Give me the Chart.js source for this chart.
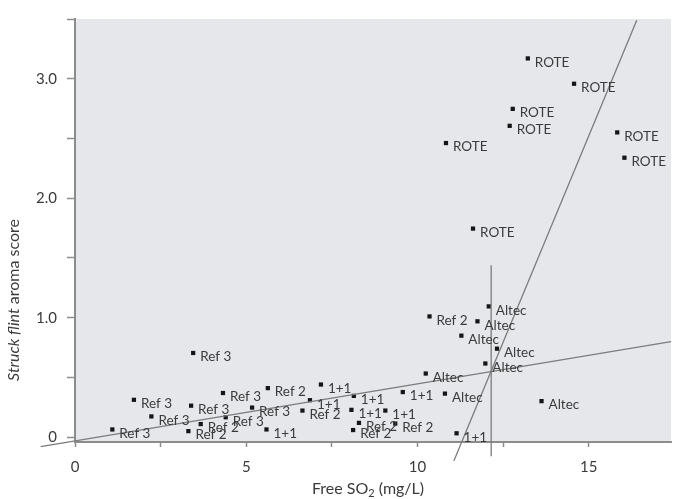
<!DOCTYPE html>
<html>
<head>
<meta charset="utf-8">
<script src="https://cdn.jsdelivr.net/npm/chart.js@4/dist/chart.umd.min.js"></script>
<style>
  html, body { margin: 0; padding: 0; background: #ffffff; }
  #wrap { width: 675px; height: 499px; }
</style>
</head>
<body>
<div id="wrap"><canvas id="chart" width="675" height="499"></canvas></div>
<script>
// Wine groups and their measurements: free SO2 (mg/L) vs struck flint aroma score
const groups = ['Ref 3', 'Ref 2', '1+1', 'Altec', 'ROTE'];

const ref3SO2   = [1.09, 1.72, 2.23, 3.39, 4.32, 4.40, 5.17, 3.45];
const ref3Score = [0.065, 0.313, 0.174, 0.264, 0.370, 0.167, 0.248, 0.705];

const ref2SO2   = [3.31, 3.67, 5.63, 6.64, 8.12, 8.29, 9.35, 10.35];
const ref2Score = [0.051, 0.110, 0.411, 0.223, 0.060, 0.120, 0.114, 1.011];

const oneOneSO2   = [5.59, 6.86, 7.18, 8.14, 9.57, 8.07, 9.06, 11.14];
const oneOneScore = [0.065, 0.310, 0.441, 0.346, 0.378, 0.229, 0.223, 0.033];

const altecSO2   = [12.08, 11.75, 11.28, 12.32, 11.98, 10.24, 10.80, 13.62];
const altecScore = [1.095, 0.970, 0.850, 0.741, 0.617, 0.533, 0.365, 0.302];

const roteSO2   = [13.22, 14.57, 12.78, 12.69, 10.83, 15.83, 16.04, 11.62];
const roteScore = [3.170, 2.958, 2.748, 2.606, 2.462, 2.551, 2.339, 1.746];

// Trend lines (end points) and the threshold marker
const lowTrendSO2   = [-1.0, 17.4];
const lowTrendScore = [-0.078, 0.80];
const highTrendSO2   = [11.06, 16.40];
const highTrendScore = [-0.20, 3.49];
const thresholdSO2   = [12.15, 12.15];
const thresholdScore = [-0.16, 1.44];

// Axis ticks
const xTickLabels = { 0: '0', 5: '5', 10: '10', 15: '15' };
const yTickLabels = { 0: '0', 1: '1.0', 2: '2.0', 3: '3.0' };

const groupValues = [
  [ref3SO2, ref3Score],
  [ref2SO2, ref2Score],
  [oneOneSO2, oneOneScore],
  [altecSO2, altecScore],
  [roteSO2, roteScore]
];

const zip = (xs, ys) => xs.map((x, i) => ({ x: x, y: ys[i] }));

const TEXT = '#3b3b3b';
const AXIS = '#8c8c8c';
const LINE = '#7c7c7c';
const FONT = 'Lato, "Open Sans", sans-serif';

const pointSets = groups.map((name, i) => ({
  type: 'scatter',
  label: name,
  data: zip(groupValues[i][0], groupValues[i][1]),
  pointStyle: 'rect',
  pointRadius: 3,
  pointBorderWidth: 0,
  backgroundColor: '#151515',
  borderColor: '#151515',
  isGroup: true,
  clip: false
}));

const lineSet = (xs, ys) => ({
  type: 'line',
  data: zip(xs, ys),
  borderColor: LINE,
  borderWidth: 1.3,
  pointRadius: 0,
  fill: false,
  tension: 0,
  clip: false
});

// Plot panel background
const panelBg = {
  id: 'panelBg',
  beforeDraw(chart) {
    const a = chart.chartArea, ctx = chart.ctx;
    ctx.save();
    ctx.fillStyle = '#e5e7eb';
    ctx.fillRect(a.left, a.top, a.right - a.left, a.bottom - a.top);
    ctx.restore();
  }
};

// Group name printed beside every point
const pointNames = {
  id: 'pointNames',
  afterDatasetsDraw(chart) {
    const ctx = chart.ctx;
    ctx.save();
    ctx.font = '13.5px ' + FONT;
    ctx.fillStyle = TEXT;
    ctx.textAlign = 'left';
    ctx.textBaseline = 'middle';
    chart.data.datasets.forEach((ds, di) => {
      if (!ds.isGroup) return;
      chart.getDatasetMeta(di).data.forEach(el => {
        ctx.fillText(ds.label, el.x + 7, el.y + 4);
      });
    });
    ctx.restore();
  }
};

// Axis titles (italic words and a subscript)
const axisTitles = {
  id: 'axisTitles',
  afterDraw(chart) {
    const ctx = chart.ctx, a = chart.chartArea;
    ctx.save();
    ctx.fillStyle = TEXT;
    ctx.textBaseline = 'middle';

    // x title: Free SO2 (mg/L)
    const big = '16px ' + FONT, small = '11px ' + FONT;
    ctx.font = big;
    const w1 = ctx.measureText('Free SO').width;
    const w3 = ctx.measureText(' (mg/L)').width;
    ctx.font = small;
    const w2 = ctx.measureText('2').width;
    const x = (a.left + a.right) / 2 - (w1 + w2 + w3) / 2 - 5;
    const y = 489;
    ctx.textAlign = 'left';
    ctx.font = big;
    ctx.fillText('Free SO', x, y);
    ctx.font = small;
    ctx.fillText('2', x + w1, y + 4);
    ctx.font = big;
    ctx.fillText(' (mg/L)', x + w1 + w2, y);

    // y title: Struck flint aroma score
    ctx.translate(14, 300);
    ctx.rotate(-Math.PI / 2);
    const it = 'italic 16px ' + FONT;
    ctx.font = it;
    const p1 = 'Struck flint';
    const q1 = ctx.measureText(p1).width;
    ctx.font = big;
    const p2 = ' aroma score';
    const q2 = ctx.measureText(p2).width;
    const sx = -(q1 + q2) / 2;
    ctx.font = it;
    ctx.fillText(p1, sx, 0);
    ctx.font = big;
    ctx.fillText(p2, sx + q1, 0);
    ctx.restore();
  }
};

new Chart(document.getElementById('chart'), {
  type: 'scatter',
  data: {
    datasets: [
      lineSet(lowTrendSO2, lowTrendScore),
      lineSet(highTrendSO2, highTrendScore),
      lineSet(thresholdSO2, thresholdScore),
      ...pointSets
    ]
  },
  options: {
    responsive: false,
    animation: false,
    layout: { padding: { top: 11, right: 0, left: 0, bottom: 0 } },
    plugins: {
      legend: { display: false },
      tooltip: { enabled: false }
    },
    scales: {
      x: {
        type: 'linear',
        min: 0,
        max: 17.4,
        afterFit(scale) { scale.height = 57; },
        border: { display: true, color: AXIS, width: 2 },
        grid: {
          drawOnChartArea: false,
          drawTicks: true,
          tickLength: 5,
          tickColor: AXIS,
          tickWidth: 1.5
        },
        ticks: {
          stepSize: 2.5,
          includeBounds: false,
          autoSkip: false,
          maxRotation: 0,
          padding: 11,
          color: TEXT,
          font: { family: FONT, size: 15 },
          callback: v => (xTickLabels[v] !== undefined ? xTickLabels[v] : '')
        },
        title: { display: false }
      },
      y: {
        type: 'linear',
        min: -0.04,
        max: 3.5,
        afterFit(scale) { scale.width = 75; },
        border: { display: true, color: AXIS, width: 2 },
        grid: {
          drawOnChartArea: false,
          drawTicks: true,
          tickLength: 8,
          tickColor: AXIS,
          tickWidth: 1.5
        },
        ticks: {
          stepSize: 0.5,
          includeBounds: false,
          autoSkip: false,
          padding: 10,
          color: TEXT,
          font: { family: FONT, size: 15 },
          callback: v => (yTickLabels[v] !== undefined ? yTickLabels[v] : '')
        },
        title: { display: false }
      }
    }
  },
  plugins: [panelBg, pointNames, axisTitles]
});
</script>
</body>
</html>
